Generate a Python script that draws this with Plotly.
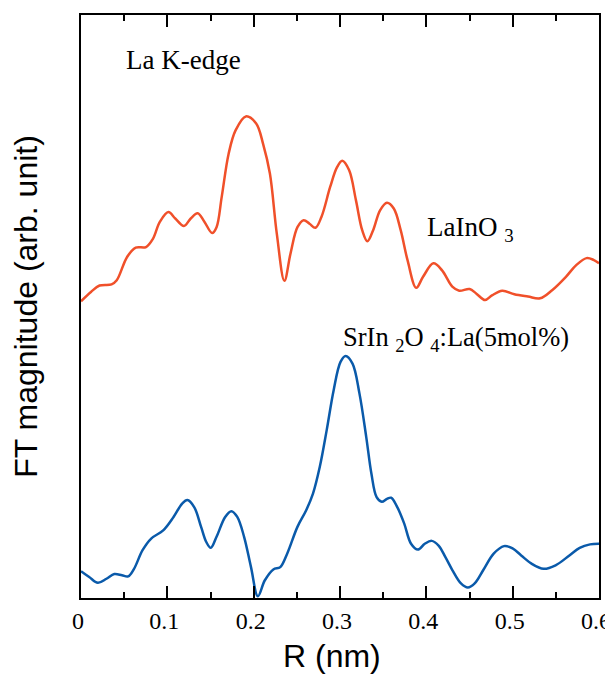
import plotly.graph_objects as go

# LaInO3 (red)
r_lainO3 = [0.000, 0.0115, 0.0215, 0.0354, 0.0414, 0.0534, 0.0634, 0.0753, 0.0833, 0.0913,
            0.1012, 0.1092, 0.1192, 0.1271, 0.1351, 0.1431, 0.1519, 0.1570, 0.1630, 0.1710,
            0.1790, 0.1909, 0.2029, 0.2109, 0.2188, 0.2268, 0.2356, 0.2427, 0.2507, 0.2579,
            0.2647, 0.2715, 0.2786, 0.2886, 0.2966, 0.3026, 0.3105, 0.3185, 0.3257, 0.3317,
            0.3384, 0.3464, 0.3544, 0.3623, 0.3703, 0.3783, 0.3883, 0.3962, 0.4082, 0.4182,
            0.4301, 0.4381, 0.4501, 0.4580, 0.4680, 0.4760, 0.4879, 0.5019, 0.5178, 0.5318,
            0.5457, 0.5617, 0.5736, 0.5856, 0.5936, 0.6000]
ft_lainO3 = [50.9, 52.5, 53.6, 53.8, 54.5, 58.5, 60.1, 60.2, 61.6, 64.5,
             66.2, 65.1, 63.8, 65.1, 66.0, 64.5, 62.6, 63.6, 68.8, 76.2,
             80.2, 82.6, 81.4, 77.9, 72.8, 62.5, 54.4, 59.1, 63.6, 64.8,
             64.2, 63.5, 65.4, 70.5, 73.9, 75.0, 73.4, 68.2, 63.1, 61.2,
             63.1, 66.5, 67.8, 66.8, 63.1, 57.9, 53.2, 55.1, 57.4, 56.2,
             53.4, 52.7, 53.0, 52.2, 51.1, 51.9, 52.7, 52.1, 51.7, 51.4,
             52.8, 55.1, 57.1, 58.3, 58.0, 57.4]

# SrIn2O4:La(5mol%) (blue)
r_srin = [0.000, 0.0095, 0.0195, 0.0295, 0.0386, 0.0474, 0.0546, 0.0614, 0.0713, 0.0813,
          0.0952, 0.1072, 0.1172, 0.1232, 0.1311, 0.1391, 0.1451, 0.1503, 0.1570, 0.1670,
          0.1742, 0.1810, 0.1889, 0.1969, 0.2049, 0.2128, 0.2228, 0.2308, 0.2388, 0.2507,
          0.2607, 0.2687, 0.2766, 0.2846, 0.2926, 0.3006, 0.3065, 0.3145, 0.3225, 0.3304,
          0.3364, 0.3424, 0.3484, 0.3544, 0.3592, 0.3663, 0.3743, 0.3823, 0.3902, 0.3982,
          0.4062, 0.4142, 0.4221, 0.4301, 0.4401, 0.4481, 0.4560, 0.4660, 0.4780, 0.4899,
          0.4999, 0.5099, 0.5218, 0.5358, 0.5497, 0.5657, 0.5776, 0.5896, 0.6000]
ft_srin = [4.6, 3.6, 2.6, 3.3, 4.1, 3.9, 3.7, 5.0, 8.2, 10.2,
           11.6, 13.9, 16.2, 16.8, 15.6, 12.2, 9.6, 8.6, 10.5, 13.9,
           14.9, 13.9, 10.5, 5.3, 0.3, 3.0, 4.9, 5.3, 7.6, 12.2,
           15.0, 17.9, 22.5, 28.8, 35.6, 40.5, 41.5, 40.2, 35.1, 27.6,
           21.3, 17.3, 16.5, 17.0, 17.2, 15.6, 12.8, 9.3, 8.3, 9.3,
           9.8, 9.0, 7.0, 4.8, 2.5, 1.8, 2.5, 4.8, 7.6, 8.9,
           8.5, 7.3, 5.9, 5.0, 5.6, 7.3, 8.6, 9.2, 9.3]

x_tick_step = 0.1
x_minor_step = 0.05

RED = "#f0502a"
BLUE = "#0a5aaa"
SERIF = "Liberation Serif"
SANS = "Liberation Sans"

fig = go.Figure()
fig.add_trace(go.Scatter(x=r_lainO3, y=ft_lainO3, mode="lines",
                         line=dict(color=RED, width=2.5, shape="spline", smoothing=1.0),
                         showlegend=False))
fig.add_trace(go.Scatter(x=r_srin, y=ft_srin, mode="lines",
                         line=dict(color=BLUE, width=2.5, shape="spline", smoothing=1.0),
                         showlegend=False))

fig.add_annotation(x=0.0501, y=92.3, xref="x", yref="y", text="La K-edge",
                   showarrow=False, xanchor="left", yanchor="middle",
                   font=dict(family=SERIF, size=27, color="black"))
fig.add_annotation(x=0.398, y=63.3, xref="x", yref="y", text="LaInO <sub>3</sub>",
                   showarrow=False, xanchor="left", yanchor="middle",
                   font=dict(family=SERIF, size=27, color="black"))
fig.add_annotation(x=0.3015, y=44.5, xref="x", yref="y",
                   text="SrIn <sub>2</sub>O <sub>4</sub>:La(5mol%)",
                   showarrow=False, xanchor="left", yanchor="middle",
                   font=dict(family=SERIF, size=26.5, color="black"))
# x-axis title (slightly left of the plot centre, as in the reference)
fig.add_annotation(x=0.4846, y=-0.0995, xref="paper", yref="paper", text="R (nm)",
                   showarrow=False, xanchor="center", yanchor="middle",
                   font=dict(family=SANS, size=32, color="black"))

# page body has an 8px default margin; figure sized to fit the 613x675 window
fig.update_layout(
    width=605, height=667,
    margin=dict(l=73, r=14, t=7, b=77, autoexpand=False),
    paper_bgcolor="white", plot_bgcolor="white",
    xaxis=dict(range=[0, 0.6], tickmode="linear", tick0=0, dtick=x_tick_step,
               ticks="inside", ticklen=12, tickwidth=2, tickcolor="#000000",
               showline=True, linecolor="black", linewidth=2, mirror="allticks",
               showgrid=False, zeroline=False, automargin=False,
               ticklabeloverflow="allow", ticklabelshift=-3,
               tickfont=dict(family=SERIF, size=24, color="black"),
               minor=dict(ticks="inside", ticklen=6, tickwidth=2, tickcolor="#000000",
                          tick0=0, dtick=x_minor_step, showgrid=False)),
    yaxis=dict(range=[0, 100], showticklabels=False, ticks="",
               showline=True, linecolor="black", linewidth=2, mirror=True,
               showgrid=False, zeroline=False, automargin=False,
               title=dict(text="FT magnitude (arb. unit)",
                          font=dict(family=SANS, size=32, color="black"),
                          standoff=38)),
)

fig.write_html("out.html")
